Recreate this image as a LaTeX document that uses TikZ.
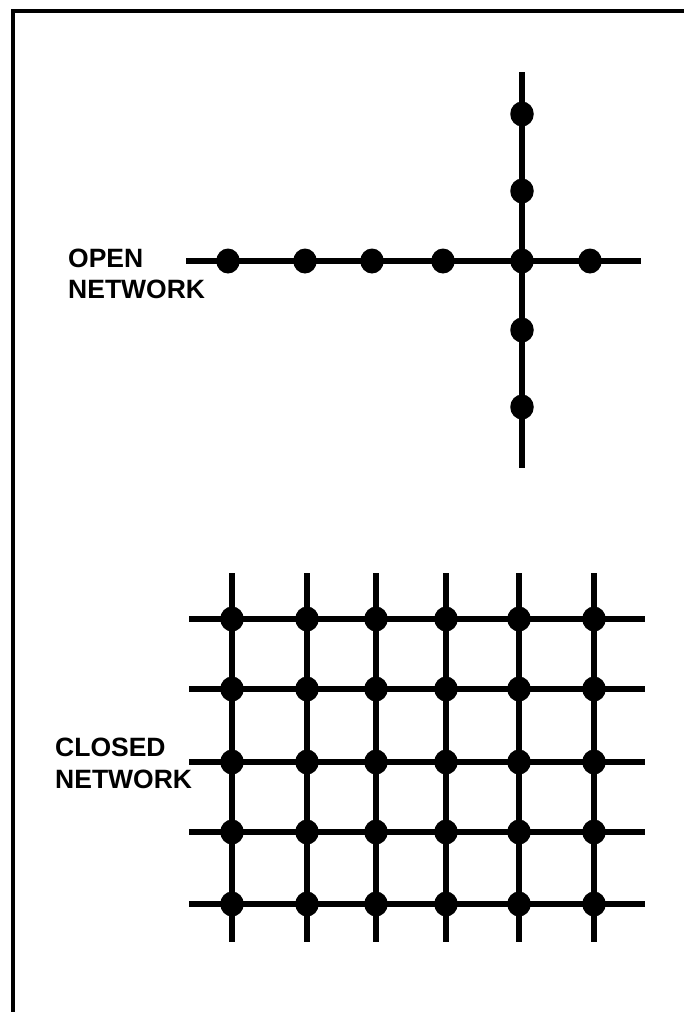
\documentclass[tikz,border=0pt]{standalone}
\usepackage{fontspec}
\setmainfont{Liberation Sans}
\usetikzlibrary{shapes.geometric}
\begin{document}
\begin{tikzpicture}[x=1pt,y=-1pt,
  wire/.style={line width=6.5pt},
  frame/.style={line width=4pt},
  dot/.style={ellipse,fill=black,draw=none,inner sep=0pt,minimum width=23.5pt,minimum height=25pt},
  lbl/.style={anchor=base west,inner sep=0pt,font=\fontsize{26.5}{32}\selectfont\bfseries}]
\useasboundingbox (0,0) rectangle (683,1012);
% frame (only top and left edges visible)
\coordinate (fa) at (13,1020);
\coordinate (fb) at (13,11);
\coordinate (fc) at (690,11);
\draw[frame] (fa) -- (fb) -- (fc);
% open network
\coordinate (ot) at (522,72);
\coordinate (ob) at (522,468);
\coordinate (ol) at (186,261);
\coordinate (or) at (641,261);
\draw[wire] (ot) -- (ob);
\draw[wire] (ol) -- (or);
\foreach \x [count=\i] in {228,305,372,443,522,590}
  \node[dot] (h\i) at (\x,261) {};
\foreach \y [count=\i] in {114,191,330,407}
  \node[dot] (v\i) at (522,\y) {};
\node[lbl] (open1) at (68,267) {OPEN};
\node[lbl] (open2) at (68,298) {NETWORK};
% closed network
\foreach \x [count=\i] in {232,307,376,446,519,594} {
  \coordinate (ct\i) at (\x,573);
  \coordinate (cb\i) at (\x,942);
  \draw[wire] (ct\i) -- (cb\i);
}
\foreach \y [count=\j] in {619,689,762,832,904} {
  \coordinate (cl\j) at (189,\y);
  \coordinate (cr\j) at (645,\y);
  \draw[wire] (cl\j) -- (cr\j);
}
\foreach \x [count=\i] in {232,307,376,446,519,594}
  \foreach \y [count=\j] in {619,689,762,832,904}
    \node[dot] (g\i-\j) at (\x,\y) {};
\node[lbl] (closed1) at (55,756) {CLOSED};
\node[lbl] (closed2) at (55,788) {NETWORK};
\end{tikzpicture}
\end{document}
